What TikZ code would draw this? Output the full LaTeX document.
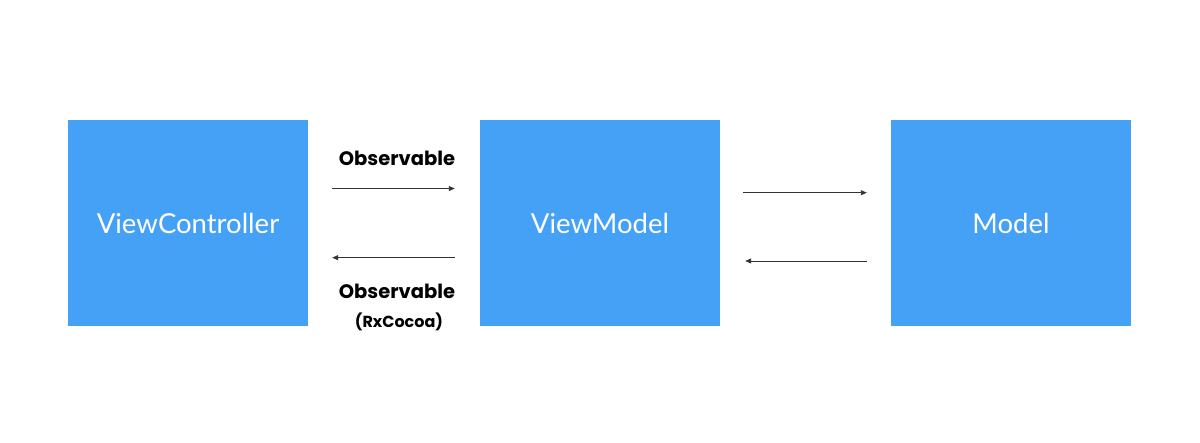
\documentclass[tikz,border=0pt]{standalone}
\usepackage{fontspec}
\setmainfont{Lato}
\newfontfamily\tagfont{Poppins}
\usepackage{tikz}
\usetikzlibrary{arrows.meta}
\definecolor{boxblue}{HTML}{45A1F6}
\definecolor{arrowgray}{HTML}{333333}

\begin{document}
\begin{tikzpicture}[x=1pt,y=-1pt,
  layer/.style={fill=boxblue,draw=none,minimum width=240pt,minimum height=206pt,
    inner sep=0pt,text=white,font=\fontsize{27.5}{32}\selectfont},
  flow/.style={draw=arrowgray,line width=0.9pt,-{Triangle[length=6pt,width=5pt]}},
  tag/.style={font=\tagfont\fontsize{19.5}{22}\bfseries\selectfont,text=black,inner sep=0pt},
  subtag/.style={font=\tagfont\fontsize{16}{19}\bfseries\selectfont,text=black,inner sep=0pt}]
  \useasboundingbox[fill=white] (0,0) rectangle (1200,442);
  % boxes
  \node[layer] (vc) at (188,223) {ViewController};
  \node[layer] (vm) at (600,223) {ViewModel};
  \node[layer] (model) at (1011,223) {Model};
  % arrows
  \draw[flow,shorten <=24pt,shorten >=25pt] ([yshift=34.5pt]vc.east) -- ([yshift=34.5pt]vm.west);
  \draw[flow,shorten <=25pt,shorten >=24pt] ([yshift=-34.7pt]vm.west) -- ([yshift=-34.7pt]vc.east);
  \draw[flow,shorten <=23pt,shorten >=24pt] ([yshift=30.3pt]vm.east) -- ([yshift=30.3pt]model.west);
  \draw[flow,shorten <=24pt,shorten >=25pt] ([yshift=-38pt]model.west) -- ([yshift=-38pt]vm.east);
  % labels
  \node[tag] (obsin) at (397,158) {Observable};
  \node[tag] (obsout) at (397,291.5) {Observable};
  \node[subtag] (rx) at (399,322) {(RxCocoa)};
\end{tikzpicture}
\end{document}
